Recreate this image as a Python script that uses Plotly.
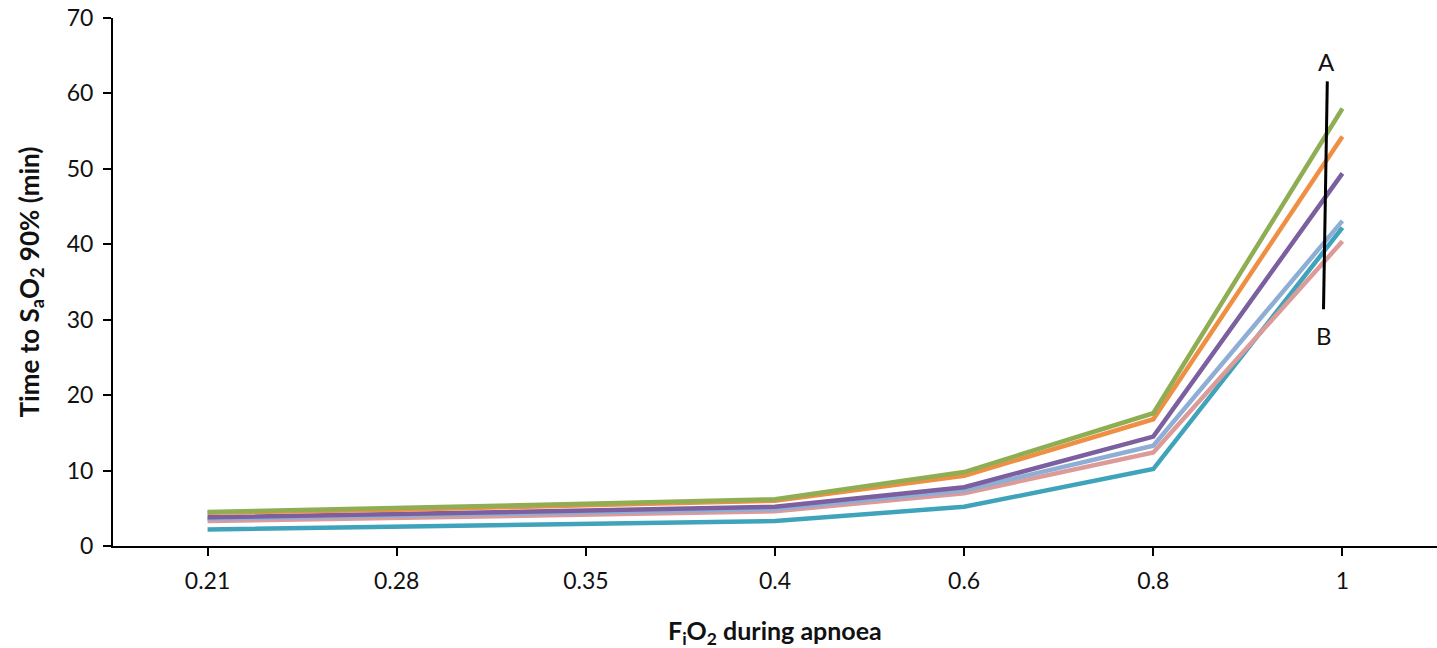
import plotly.graph_objects as go

fio2 = ["0.21", "0.28", "0.35", "0.4", "0.6", "0.8", "1"]
y_ticks = [0, 10, 20, 30, 40, 50, 60, 70]

teal = [2.2, 2.6, 2.9, 3.3, 5.2, 10.2, 42.2]
pink = [3.3, 3.7, 4.1, 4.6, 7.0, 12.4, 40.4]
light_blue = [3.6, 4.0, 4.4, 4.9, 7.4, 13.3, 43.1]
purple = [3.8, 4.2, 4.7, 5.2, 7.8, 14.5, 49.4]
orange = [4.4, 4.8, 5.4, 6.0, 9.3, 16.8, 54.3]
green = [4.5, 5.0, 5.6, 6.2, 9.8, 17.6, 58.0]

series = [
    ("teal", teal, "#3FA3BC"),
    ("pink", pink, "#DC9A98"),
    ("light blue", light_blue, "#8EAED6"),
    ("purple", purple, "#7B5F9F"),
    ("orange", orange, "#EE8F44"),
    ("green", green, "#8FAE54"),
]

# A–B range marker near FiO2 = 1
marker_x = [5.92, 5.90]
marker_y = [61.6, 31.4]
label_a = ("A", 5.915, 64.2)
label_b = ("B", 5.90, 27.9)

fig = go.Figure()
for name, vals, col in series:
    fig.add_trace(go.Scatter(x=fio2, y=vals, mode="lines", name=name,
                             line=dict(color=col, width=4.5), showlegend=False))

fig.add_shape(type="line", xref="x", yref="y",
              x0=marker_x[0], y0=marker_y[0], x1=marker_x[1], y1=marker_y[1],
              line=dict(color="black", width=3))
for txt, xx, yy in (label_a, label_b):
    fig.add_annotation(x=xx, y=yy, xref="x", yref="y", text=txt, showarrow=False,
                       font=dict(size=24, color="#111"))

# x-axis title placed as a paper annotation
fig.add_annotation(x=0.5, y=-0.163, xref="paper", yref="paper",
                   xanchor="center", yanchor="middle", showarrow=False,
                   text="<b>F<sub>i</sub>O<sub>2</sub> during apnoea</b>",
                   font=dict(size=25, color="#111"))

fig.update_layout(
    width=1437, height=648,
    margin=dict(l=113, r=0, t=18, b=102),
    plot_bgcolor="white", paper_bgcolor="white",
    font=dict(family="Lato, Open Sans, sans-serif", size=23, color="#111"),
)
fig.update_xaxes(
    type="category", categoryorder="array", categoryarray=fio2,
    range=[-0.5, 6.5], automargin=False,
    showline=True, linecolor="black", linewidth=2,
    ticks="outside", ticklen=8, tickwidth=2, tickcolor="black",
    ticklabelstandoff=5,
    showgrid=False, zeroline=False,
    tickfont=dict(size=23, color="#111"),
)
fig.update_yaxes(
    range=[0, 70], tickmode="array", tickvals=y_ticks, automargin=False,
    showline=True, linecolor="black", linewidth=2,
    ticks="outside", ticklen=8, tickwidth=2, tickcolor="black",
    ticklabelstandoff=5, ticklabeloverflow="allow",
    showgrid=False, zeroline=False,
    tickfont=dict(size=23, color="#111"),
    title=dict(text="<b>Time to S<sub>a</sub>O<sub>2</sub> 90% (min)</b>",
               font=dict(size=26, color="#111"), standoff=20),
)

fig.write_html("out.html",
               config={"displayModeBar": False},
               post_script="document.body.style.margin='0';document.body.style.overflow='hidden';")
